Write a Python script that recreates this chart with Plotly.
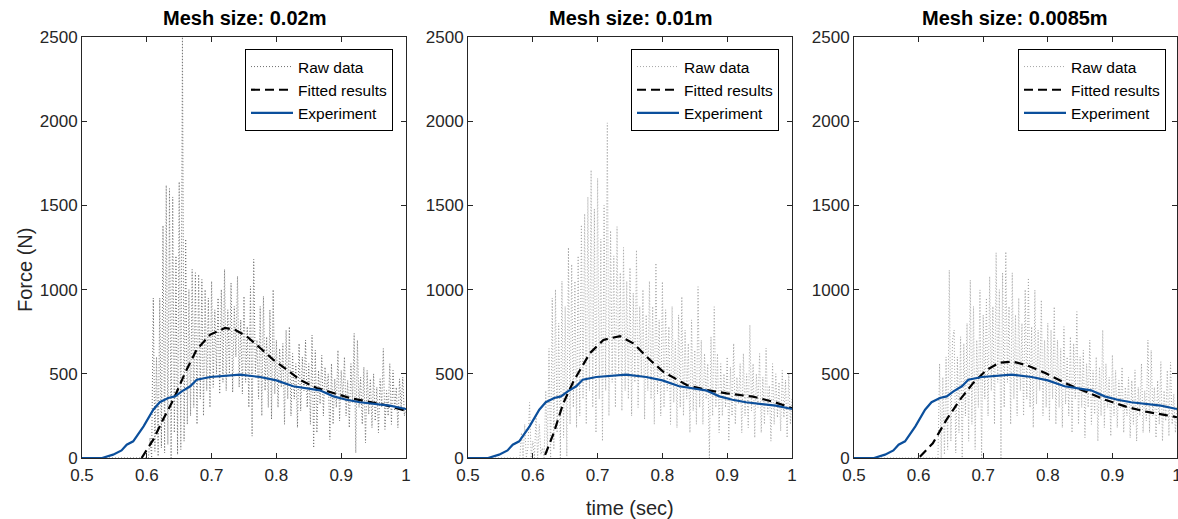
import numpy as np
import plotly.graph_objects as go

# ---------------- data ----------------
titles = ["Mesh size: 0.02m", "Mesh size: 0.01m", "Mesh size: 0.0085m"]
x_ticks = [0.5, 0.6, 0.7, 0.8, 0.9, 1.0]
x_tick_labels = ["0.5", "0.6", "0.7", "0.8", "0.9", "1"]
y_ticks = [0, 500, 1000, 1500, 2000, 2500]

# Experiment (same in every panel)
exp_t = [0.50, 0.531, 0.548, 0.561, 0.569, 0.579, 0.595, 0.61, 0.62, 0.633, 0.6435, 0.654,
         0.667, 0.677, 0.698, 0.723, 0.744, 0.775, 0.80, 0.826, 0.847, 0.867, 0.888, 0.908,
         0.929, 0.955, 0.975, 1.0]
exp_f = [0, 0, 20, 45, 79, 99, 188, 287, 331, 356, 366, 396,
         426, 465, 481, 489, 495, 481, 461, 426, 416, 402, 366, 346,
         331, 321, 311, 291]

# Fitted results
fit1_t = [0.592, 0.61, 0.625, 0.641, 0.659, 0.677, 0.698, 0.7207, 0.736, 0.754, 0.775, 0.795,
          0.816, 0.836, 0.862, 0.888, 0.914, 0.9395, 0.965, 1.0]
fit1_f = [0, 109, 228, 346, 505, 644, 733, 772, 762, 723, 653, 584,
          525, 465, 416, 386, 356, 336, 317, 281]
fit2_t = [0.619, 0.632, 0.647, 0.6625, 0.670, 0.688, 0.709, 0.7346, 0.755, 0.781, 0.801, 0.8375,
          0.868, 0.899, 0.94, 0.971, 1.0]
fit2_f = [18, 146, 325, 453, 503, 622, 701, 724, 681, 582, 513, 433,
          404, 384, 364, 334, 296]
fit3_t = [0.602, 0.622, 0.643, 0.6636, 0.684, 0.705, 0.725, 0.746, 0.7665, 0.797, 0.828, 0.859,
          0.89, 0.921, 0.952, 0.9826, 1.0]
fit3_f = [8, 87, 226, 344, 443, 522, 566, 572, 552, 503, 443, 394,
          344, 305, 275, 255, 242]

# Raw data (sampled every 0.0025 s from raw*_start to 1.0, zero before)
raw_step = 0.0025
raw1_start = 0.600
raw1_f = [
    0, 0, 120, 0, 950, 40, 600, 10, 950, 60,
    1380, 30, 1620, 80, 1600, 0, 1550, 150, 1200, 20,
    1640, 50, 2500, 100, 1300, 200, 1000, 250, 1120, 300,
    1100, 200, 1090, 350, 1060, 250, 1000, 400, 950, 300,
    1050, 420, 880, 500, 950, 380, 1000, 450, 1120, 400,
    880, 500, 1040, 390, 900, 600, 1080, 420, 820, 380,
    960, 450, 780, 300, 1020, 130, 1180, 500, 700, 350,
    900, 250, 960, 400, 720, 300, 880, 230, 1000, 380,
    700, 300, 650, 420, 680, 200, 760, 350, 780, 250,
    620, 350, 560, 180, 680, 280, 600, 400, 700, 300,
    560, 200, 730, 60, 640, 150, 520, 320, 610, 250,
    540, 380, 500, 110, 560, 200, 470, 300, 640, 220,
    520, 350, 600, 250, 460, 180, 560, 330, 740, 30,
    700, 300, 480, 200, 540, 90, 520, 260, 470, 180,
    500, 220, 420, 150, 470, 300, 650, 170, 400, 250,
    560, 200, 520, 280, 420, 180, 470, 300, 480, 250,
    300]
raw2_start = 0.580
raw2_f = [
    0, 150, 0, 200, 0, 60, 330, 0, 100, 0,
    250, 0, 200, 20, 60, 0, 400, 30, 650, 0,
    950, 50, 1000, 150, 800, 0, 1050, 120, 900, 10,
    1250, 200, 1150, 300, 1050, 180, 1200, 250, 1384, 350,
    1450, 200, 1550, 400, 1710, 300, 1480, 150, 1660, 350,
    1300, 100, 1500, 400, 1990, 250, 1350, 450, 1200, 300,
    1374, 500, 1100, 280, 1250, 400, 1050, 350, 1130, 250,
    980, 450, 1235, 300, 900, 480, 1000, 230, 850, 400,
    1050, 350, 900, 200, 1157, 380, 820, 250, 1047, 300,
    880, 400, 780, 200, 900, 330, 700, 180, 850, 300,
    958, 250, 760, 350, 680, 150, 820, 280, 640, 200,
    1017, 300, 700, 200, 620, 350, 560, 0, 720, 250,
    898, 300, 620, 150, 560, 250, 500, 300, 600, 100,
    540, 250, 680, 200, 480, 320, 560, 150, 620, 250,
    500, 180, 790, 280, 560, 120, 500, 300, 620, 150,
    480, 200, 653, 260, 430, 100, 560, 200, 500, 240,
    450, 160, 520, 240, 463, 120, 500, 200,
    350]
raw3_start = 0.630
raw3_f = [
    0, 560, 0, 480, 20, 600, 50, 1116, 100, 700,
    760, 30, 600, 150, 720, 0, 680, 250, 800, 100,
    1057, 200, 900, 50, 700, 300, 998, 0, 850, 350,
    950, 250, 1077, 400, 900, 200, 1219, 450, 1000, 0,
    1100, 300, 1225, 450, 900, 200, 1100, 350, 850, 250,
    950, 400, 800, 250, 1000, 350, 1069, 300, 780, 180,
    998, 320, 760, 400, 938, 250, 700, 300, 800, 220,
    760, 350, 898, 200, 700, 300, 650, 180, 780, 320,
    600, 250, 720, 150, 680, 350, 869, 200, 600, 300,
    640, 120, 560, 300, 700, 200, 520, 260, 600, 100,
    540, 250, 760, 180, 560, 300, 480, 130, 612, 250,
    520, 180, 460, 300, 540, 150, 420, 250, 480, 120,
    460, 200, 523, 100, 420, 250, 560, 150, 400, 220,
    700, 150, 640, 250, 420, 120, 460, 200, 572, 100,
    400, 220, 520, 130, 568, 200, 380, 150,
    300]

raw_sets = [(raw1_start, raw1_f), (raw2_start, raw2_f), (raw3_start, raw3_f)]
fit_sets = [(fit1_t, fit1_f), (fit2_t, fit2_f), (fit3_t, fit3_f)]
raw_colors = ["#6e6e6e", "#a6a6a6", "#a6a6a6"]

# ---------------- layout geometry ----------------
W, H = 1178, 519
x_px = [(82, 406), (468, 792), (854, 1177)]
y_top, y_bot = 37, 458
legend_right = [393, 779, 1166]
legend_top = 49

BLUE = "#0b4f9c"
AX = "#262626"
FONT = "Liberation Sans, Arial, sans-serif"

fig = go.Figure()
for i in range(3):
    start, vals = raw_sets[i]
    t = [0.5] + list(np.round(start + raw_step * np.arange(len(vals)), 5))
    f = [0] + list(vals)
    sfx = "" if i == 0 else str(i + 1)
    xa, ya = "x" + sfx, "y" + sfx
    lg = "legend" + sfx
    fig.add_trace(go.Scatter(x=t, y=f, mode="lines", name="Raw data",
                             line=dict(color=raw_colors[i], width=1, dash="1px,2px"),
                             xaxis=xa, yaxis=ya, legend=lg))
    ft, ff = fit_sets[i]
    fig.add_trace(go.Scatter(x=ft, y=ff, mode="lines", name="Fitted results",
                             line=dict(color="black", width=2.2, dash="9px,5px"),
                             xaxis=xa, yaxis=ya, legend=lg))
    fig.add_trace(go.Scatter(x=exp_t, y=exp_f, mode="lines", name="Experiment",
                             line=dict(color=BLUE, width=2.2),
                             xaxis=xa, yaxis=ya, legend=lg))

layout = dict(width=W, height=H, margin=dict(l=0, r=0, t=0, b=0, autoexpand=False),
              autosize=False,
              paper_bgcolor="white", plot_bgcolor="white",
              font=dict(family=FONT, color=AX), showlegend=True)
annotations = []
for i in range(3):
    sfx = "" if i == 0 else str(i + 1)
    x0, x1 = x_px[i]
    common = dict(showline=True, linecolor=AX, linewidth=1, mirror="ticks",
                  ticks="inside", ticklen=5, tickcolor=AX, tickwidth=1,
                  showgrid=False, zeroline=False, automargin=False,
                  ticklabeloverflow="allow",
                  tickfont=dict(family=FONT, size=17, color=AX))
    layout["xaxis" + sfx] = dict(domain=[x0 / W, x1 / W], range=[0.5, 1.0],
                                 tickvals=x_ticks, ticktext=x_tick_labels,
                                 anchor="y" + sfx, ticklabelstandoff=2, **common)
    layout["yaxis" + sfx] = dict(domain=[1 - y_bot / H, 1 - y_top / H], range=[0, 2500],
                                 tickvals=y_ticks, anchor="x" + sfx, **common)
    layout["legend" + sfx] = dict(x=legend_right[i] / W, y=1 - legend_top / H,
                                  xanchor="right", yanchor="top",
                                  bgcolor="white", bordercolor="black", borderwidth=1,
                                  font=dict(family=FONT, size=15.5, color="black"),
                                  tracegroupgap=0, itemwidth=42)
    annotations.append(dict(text="<b>" + titles[i] + "</b>", x=(x0 + x1) / 2 / W,
                            y=1 - 18 / H, xref="paper", yref="paper",
                            showarrow=False, xanchor="center", yanchor="middle",
                            font=dict(family=FONT, size=20, color="black")))
annotations.append(dict(text="Force (N)", x=25 / W, y=1 - 270 / H, xref="paper", yref="paper",
                        showarrow=False, textangle=-90, xanchor="center", yanchor="middle",
                        font=dict(family=FONT, size=20, color=AX)))
annotations.append(dict(text="time (sec)", x=630 / W, y=1 - 508 / H, xref="paper", yref="paper",
                        showarrow=False, xanchor="center", yanchor="middle",
                        font=dict(family=FONT, size=20, color=AX)))
layout["annotations"] = annotations
fig.update_layout(**layout)
fig.write_html("out.html",
               config={"responsive": False},
               post_script="document.body.style.margin='0';document.body.style.overflow='hidden';")
